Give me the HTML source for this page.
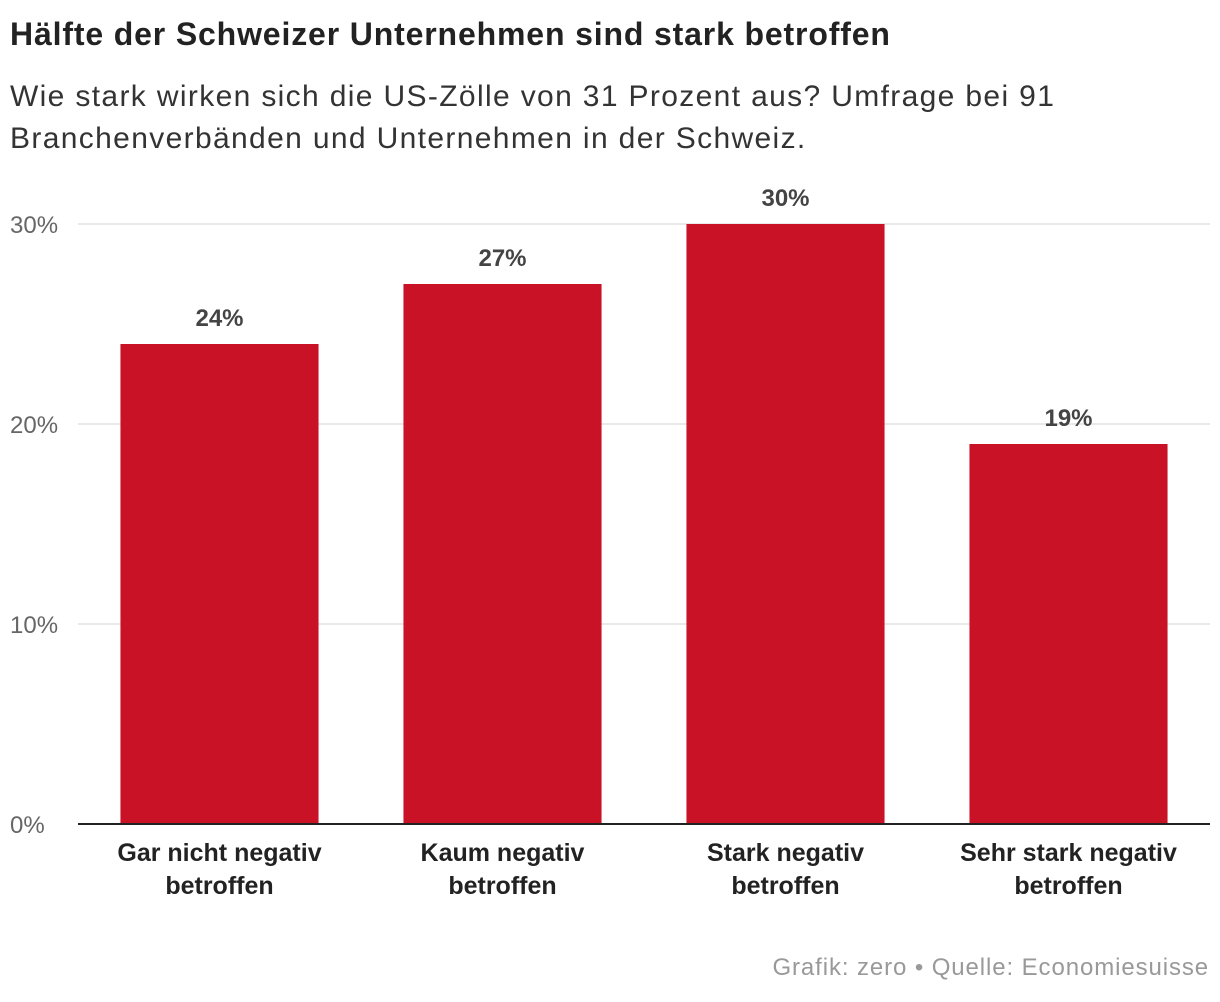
<!DOCTYPE html>
<html><head><meta charset="utf-8">
<style>
html,body{margin:0;padding:0;background:#fff;}
body{width:1220px;height:1002px;position:relative;overflow:hidden;font-family:"Liberation Sans",sans-serif;color:#222;}
#title{position:absolute;left:10px;top:16px;font-size:32px;font-weight:bold;letter-spacing:0.85px;white-space:nowrap;}
#subtitle{position:absolute;left:10px;top:76px;font-size:30px;line-height:42px;color:#333;letter-spacing:1.35px;white-space:nowrap;}
#footer{position:absolute;right:11px;top:954px;font-size:24px;color:#999;letter-spacing:0.9px;}
svg{position:absolute;left:0;top:0;}
</style></head>
<body>
<div id="title">Hälfte der Schweizer Unternehmen sind stark betroffen</div>
<div id="subtitle">Wie stark wirken sich die US-Zölle von 31 Prozent aus? Umfrage bei 91<br>Branchenverbänden und Unternehmen in der Schweiz.</div>
<svg id="chart" width="1220" height="1002"></svg>
<div id="footer">Grafik: zero • Quelle: Economiesuisse</div>
<script>
const categories=[["Gar nicht negativ","betroffen"],["Kaum negativ","betroffen"],["Stark negativ","betroffen"],["Sehr stark negativ","betroffen"]];
const values=[24,27,30,19];
const tickValues=[0,10,20,30];
const tickLabels=["0%","10%","20%","30%"];

const NS="http://www.w3.org/2000/svg";
const svg=document.getElementById('chart');
const x0=78,x1=1210,yBase=824,yTop=224,maxV=30;
const y=v=>yBase-(v/maxV)*(yBase-yTop);
const band=(x1-x0)/categories.length;
const xc=i=>x0+band*(i+0.5);
const bw=band*0.7;
function mk(tag,attrs){const e=document.createElementNS(NS,tag);for(const k in attrs)e.setAttribute(k,attrs[k]);svg.appendChild(e);return e;}
tickValues.forEach((t,i)=>{
  if(t>0){const g=mk('line',{x1:x0,x2:x1,y1:y(t),y2:y(t),stroke:'#e2e2e2','stroke-width':1.5});
  
  }
  const l=mk('text',{x:10,y:y(t)+9,'font-size':24,fill:'#666'});
  l.textContent=tickLabels[i];
  
  
});
values.forEach((v,i)=>{
  const r=mk('rect',{x:xc(i)-bw/2,y:y(v),width:bw,height:yBase-y(v),fill:'#c91226'});
  
  
  const t=mk('text',{x:xc(i),y:y(v)-18,'text-anchor':'middle','font-size':24,'font-weight':'bold',fill:'#444'});
  t.textContent=v+'%';
  
  
  categories[i].forEach((line,j)=>{
    const c=mk('text',{x:xc(i),y:861+j*33,'text-anchor':'middle','font-size':25,'font-weight':'bold',fill:'#222'});
    c.textContent=line;
    
    
  });
});
const ax=mk('line',{x1:x0,x2:x1,y1:yBase,y2:yBase,stroke:'#222','stroke-width':2});


</script>
</body></html>
